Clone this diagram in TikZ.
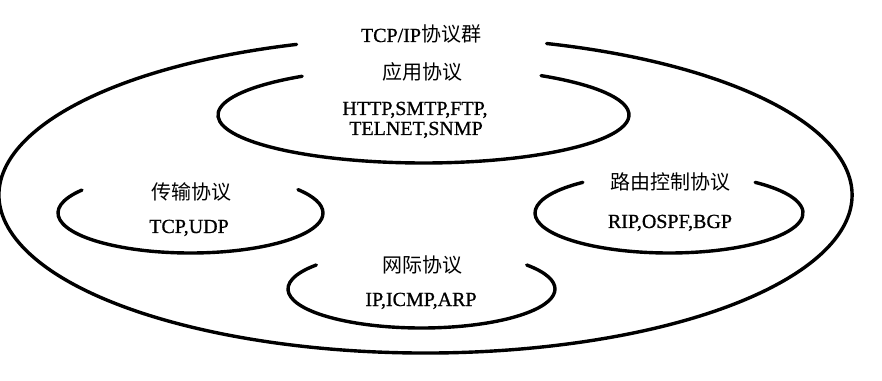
\documentclass[tikz,border=0pt]{standalone}
\usepackage{fontspec}
\setmainfont[FakeBold=0.8,BoldFont={Liberation Serif}]{Liberation Serif}
\newfontfamily\latin[FakeBold=0.8]{Liberation Serif}
\newfontfamily\cjk[Scale=1.0]{Noto Sans CJK SC}
\begin{document}
\begin{tikzpicture}[x=1pt,y=1pt,
  ring/.style={line width=3.4pt, line cap=round},
  lbl/.style={anchor=base, inner sep=0pt, font=\fontsize{20}{20}\latin}]
\useasboundingbox (0,0) rectangle (882,380);
% outer ring: TCP/IP
\draw[ring] (425.5,185) ++(107.6:426.5 and 158) arc[start angle=107.6, end angle=433.5, x radius=426.5, y radius=158];
% application ring
\draw[ring] (423.5,265) ++(126.2:205.5 and 48) arc[start angle=126.2, end angle=415.1, x radius=205.5, y radius=48];
% transport ring
\draw[ring] (190.5,167) ++(145:132.5 and 40) arc[start angle=145, end angle=395.8, x radius=132.5, y radius=40];
% routing ring
\draw[ring] (669,167) ++(130:134 and 40) arc[start angle=130, end angle=410, x radius=134, y radius=40];
% network ring
\draw[ring] (421.5,91) ++(142:133.5 and 39) arc[start angle=142, end angle=398, x radius=133.5, y radius=39];

\node[lbl] (title) at (421,338) {TCP/IP{\cjk 协议群}};
\node[lbl] (app) at (422,300) {\cjk 应用协议};
\node[lbl] (app1) at (415,265) {HTTP,SMTP,FTP,};
\node[lbl] (app2) at (416,245) {TELNET,SNMP};
\node[lbl] (tr) at (191,180) {\cjk 传输协议};
\node[lbl] (tr1) at (189,147) {TCP,UDP};
\node[lbl] (rt) at (670,190) {\cjk 路由控制协议};
\node[lbl] (rt1) at (670,152) {RIP,OSPF,BGP};
\node[lbl] (nw) at (422,107) {\cjk 网际协议};
\node[lbl] (nw1) at (421,74) {IP,ICMP,ARP};
\end{tikzpicture}
\end{document}
